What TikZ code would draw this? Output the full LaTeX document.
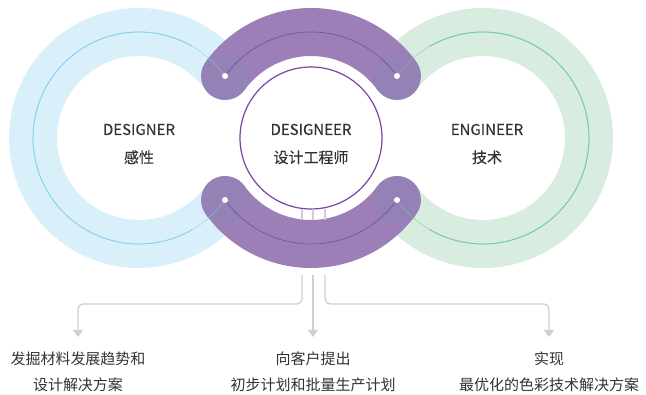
\documentclass[tikz,border=0pt]{standalone}
\usepackage{fontspec}
\setmainfont{Noto Sans CJK SC}
\newfontfamily\labelfont[FakeBold=0.35]{Noto Sans CJK SC}
\usetikzlibrary{arrows.meta,positioning}
\definecolor{skyring}{HTML}{D9F0FA}
\definecolor{skyline}{HTML}{86D0F0}
\definecolor{mintring}{HTML}{D8ECE0}
\definecolor{mintline}{HTML}{73C9A0}
\definecolor{plumring}{HTML}{9D7FB8}
\definecolor{plumcap}{HTML}{9481B6}
\definecolor{plumline}{HTML}{6D4F9E}
\definecolor{coreline}{HTML}{7A44A2}
\definecolor{flowgrey}{HTML}{CFCFCF}
\definecolor{inkgrey}{HTML}{333333}
\tikzset{
  ring/.style={line width=48pt},
  guide/.style={line width=0.8pt},
  flow/.style={draw=flowgrey,line width=1.3pt,rounded corners=5pt,
    -{Triangle[width=10pt,length=7pt]},shorten >=15pt},
  tag/.style={font=\labelfont\fontsize{15}{18}\selectfont,text=inkgrey,anchor=base},
  note/.style={font=\fontsize{15}{26}\selectfont,text=inkgrey,align=center,
    anchor=north,inner sep=0pt},
}
\begin{document}
\begin{tikzpicture}[x=1pt,y=1pt]
	\useasboundingbox (0,0) rectangle (646,395);
	\coordinate (lc) at (139,257);
	\coordinate (mc) at (311,257);
	\coordinate (rc) at (483,257);
	\coordinate (bend) at (0,91);
	% side rings
	\draw[ring,skyring,line cap=round] ([shift={(35.8:106)}]lc) arc[start angle=35.8,end angle=324.2,radius=106];
	\draw[ring,mintring,line cap=round] ([shift={(144.2:106)}]rc) arc[start angle=144.2,end angle=-144.2,radius=106];
	% purple bridges
	\draw[ring,plumring] ([shift={(35.8:106)}]mc) arc[start angle=35.8,end angle=144.2,radius=106];
	\draw[ring,plumring] ([shift={(215.8:106)}]mc) arc[start angle=215.8,end angle=324.2,radius=106];
	\foreach \a in {35.8,144.2,215.8,324.2}
		\fill[plumcap] ([shift={(\a:106)}]mc) circle(24);
	% thin guides, faint where they cross the caps
	\draw[guide,skyline,opacity=0.55] ([shift={(35.8:106)}]lc) arc[start angle=35.8,end angle=324.2,radius=106];
	\draw[guide,mintline,opacity=0.55] ([shift={(144.2:106)}]rc) arc[start angle=144.2,end angle=-144.2,radius=106];
	\draw[guide,skyline] ([shift={(60:106)}]lc) arc[start angle=60,end angle=300,radius=106];
	\draw[guide,mintline] ([shift={(120:106)}]rc) arc[start angle=120,end angle=-120,radius=106];
	\draw[guide,plumline,line width=0.6pt] ([shift={(35.8:106)}]mc) arc[start angle=35.8,end angle=144.2,radius=106];
	\draw[guide,plumline,line width=0.6pt] ([shift={(215.8:106)}]mc) arc[start angle=215.8,end angle=324.2,radius=106];
	\foreach \a in {35.8,144.2,215.8,324.2}
		\fill[white] ([shift={(\a:106)}]mc) circle(3);
	% centre
	\node[circle,draw=coreline,line width=1.2pt,fill=white,minimum size=142pt,inner sep=0pt] (core) at (mc) {};
	\node[tag] (lname) at (139,260) {DESIGNER};
	\node[tag] (lword) at (139,232) {感性};
	\node[tag] (mname) at (311,260) {DESIGNEER};
	\node[tag] (mword) at (311,232) {设计工程师};
	\node[tag] (rname) at (487,260) {ENGINEER};
	\node[tag] (rword) at (487,232) {技术};
	% outputs
	\foreach \x in {302,313,325}
		\draw[flowgrey,line width=1.3pt] (\x,186) -- (\x,175);
	\coordinate (lfork) at (302,120);
	\coordinate (mfork) at (313,120);
	\coordinate (rfork) at (325,120);
	\node[note] (lnote) at (78,43) {发掘材料发展趋势和\\设计解决方案};
	\node[note] (mnote) at (313,43) {向客户提出\\初步计划和批量生产计划};
	\node[note] (rnote) at (549,43) {实现\\最优化的色彩技术解决方案};
	\draw[flow] (lfork) -- (lfork |- bend) -- (lnote.north |- bend) -- (lnote.north);
	\draw[flow] (mfork) -- (mnote.north);
	\draw[flow] (rfork) -- (rfork |- bend) -- (rnote.north |- bend) -- (rnote.north);
\end{tikzpicture}
\end{document}
